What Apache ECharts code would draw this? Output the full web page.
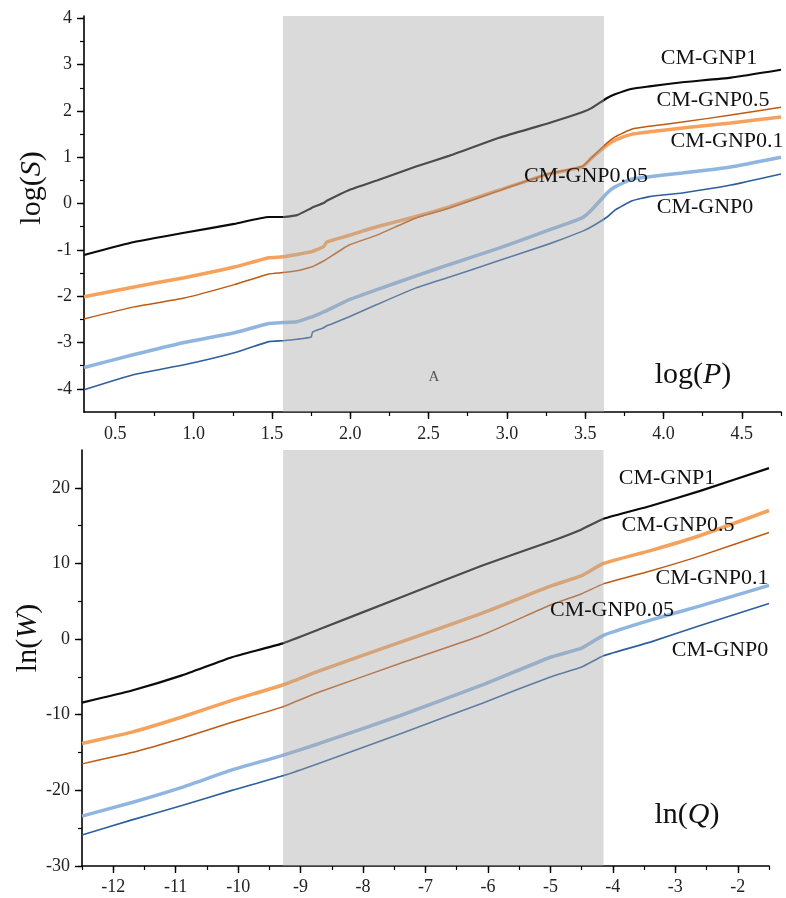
<!DOCTYPE html>
<html>
<head>
<meta charset="utf-8">
<script src="https://cdn.jsdelivr.net/npm/echarts@6/dist/echarts.min.js"></script>
<style>
html,body{margin:0;padding:0;background:#fff;}
#c{width:786px;height:898px;}
</style>
</head>
<body>
<div id="c"></div>
<script>
// ---------- top panel: log(S) vs log(P) ----------
const TOP_X = [0.3, 0.62, 0.94, 1.26, 1.48, 1.57, 1.66, 1.75, 1.76, 1.83, 1.85, 1.99, 2.17, 2.42, 2.63, 2.95, 3.27, 3.48, 3.54, 3.64, 3.69, 3.80, 3.91, 4.12, 4.43, 4.75];
const S_GNP1   = [-1.11, -0.83, -0.63, -0.44, -0.29, -0.29, -0.25, -0.10, -0.08, 0.01, 0.06, 0.29, 0.50, 0.80, 1.03, 1.42, 1.74, 1.97, 2.06, 2.28, 2.36, 2.48, 2.53, 2.62, 2.72, 2.89];
const S_GNP05  = [-2.01, -1.80, -1.60, -1.37, -1.17, -1.15, -1.10, -1.04, -1.03, -0.93, -0.83, -0.69, -0.50, -0.28, -0.07, 0.29, 0.64, 0.79, 0.98, 1.26, 1.37, 1.50, 1.55, 1.63, 1.74, 1.87];
const S_GNP01  = [-2.49, -2.23, -2.04, -1.75, -1.52, -1.49, -1.45, -1.37, -1.36, -1.24, -1.20, -0.90, -0.68, -0.31, -0.10, 0.28, 0.65, 0.80, 0.99, 1.31, 1.44, 1.61, 1.67, 1.76, 1.91, 2.08];
const S_GNP005 = [-3.54, -3.26, -3.00, -2.79, -2.59, -2.57, -2.55, -2.45, -2.44, -2.34, -2.31, -2.08, -1.86, -1.56, -1.32, -0.96, -0.57, -0.31, -0.14, 0.23, 0.36, 0.53, 0.58, 0.66, 0.79, 1.00];
const S_GNP0   = [-4.02, -3.69, -3.48, -3.22, -2.98, -2.96, -2.93, -2.88, -2.77, -2.68, -2.64, -2.45, -2.18, -1.82, -1.59, -1.23, -0.87, -0.60, -0.50, -0.29, -0.14, 0.06, 0.15, 0.23, 0.40, 0.64];
const TOP_X_TICKS = [0.5, 1.0, 1.5, 2.0, 2.5, 3.0, 3.5, 4.0, 4.5];
const TOP_Y_TICKS = [-4, -3, -2, -1, 0, 1, 2, 3, 4];
const TOP_REGION = [1.57, 3.62];

// ---------- bottom panel: ln(W) vs ln(Q) ----------
const BOT_X = [-12.5, -11.7, -10.9, -10.1, -9.3, -8.7, -7.4, -6.1, -5.0, -4.5, -4.15, -3.4, -2.6, -1.5];
const W_GNP1   = [-8.4, -6.8, -4.8, -2.4, -0.6, 1.3, 5.5, 9.7, 12.9, 14.5, 15.9, 17.6, 19.6, 22.6];
const W_GNP05  = [-13.8, -12.3, -10.3, -8.1, -6.1, -4.2, -0.4, 3.4, 7.0, 8.4, 10.0, 11.7, 13.7, 17.0];
const W_GNP01  = [-16.5, -15.0, -13.1, -11.0, -9.0, -7.0, -3.2, 0.5, 4.5, 6.0, 7.3, 9.0, 11.0, 14.1];
const W_GNP005 = [-23.4, -21.6, -19.6, -17.3, -15.4, -13.8, -10.1, -6.1, -2.4, -1.2, 0.5, 2.5, 4.4, 7.1];
const W_GNP0   = [-25.9, -23.9, -22.0, -20.0, -18.1, -16.4, -12.5, -8.5, -5.0, -3.7, -2.2, -0.4, 1.8, 4.7];
const BOT_X_TICKS = [-12, -11, -10, -9, -8, -7, -6, -5, -4, -3, -2];
const BOT_Y_TICKS = [-30, -20, -10, 0, 10, 20];
const BOT_REGION = [-9.28, -4.15];

const NAMES = ['CM-GNP1', 'CM-GNP0.5', 'CM-GNP0.1', 'CM-GNP0.05', 'CM-GNP0'];
const COLORS = ['#0a0a0a', '#f6a25c', '#c05a12', '#8fb5e1', '#2d5f9e'];
const WIDTHS = [2.2, 3.5, 1.5, 3.5, 1.6];

function pairs(xs, ys) { return xs.map((x, i) => [x, ys[i]]); }
function steps(step, lo, hi) {
  const out = [];
  for (let v = lo; v <= hi + 1e-9; v += step) out.push(Math.round(v * 1000) / 1000);
  return out;
}

const SERIF = 'Liberation Serif';
function axisPair(dim, grid, min, max, majors, minors, fmt, margin) {
  const pos = dim === 'x' ? 'bottom' : 'left';
  const main = {
    type: 'value', gridIndex: grid, min: min, max: max, position: pos,
    axisLine: { show: true, onZero: false, lineStyle: { color: '#000', width: 1.6 } },
    axisTick: { show: true, inside: false, length: 7, customValues: majors, lineStyle: { color: '#000', width: 1.4 } },
    axisLabel: { show: true, customValues: majors, formatter: fmt, fontFamily: SERIF, fontSize: 18, color: '#222', margin: margin },
    splitLine: { show: false }
  };
  const minor = {
    type: 'value', gridIndex: grid, min: min, max: max, position: pos,
    axisLine: { show: false, onZero: false },
    axisTick: { show: true, inside: false, length: 4, customValues: minors, lineStyle: { color: '#000', width: 1.2 } },
    axisLabel: { show: false },
    splitLine: { show: false }
  };
  return [main, minor];
}

const topXAxes = axisPair('x', 0, 0.3, 4.75, TOP_X_TICKS, steps(0.25, 0.5, 4.75), v => v.toFixed(1), 13);
const topYAxes = axisPair('y', 0, -4.5, 4.05, TOP_Y_TICKS, steps(0.5, -4, 4), v => String(v), 12);
const botXAxes = axisPair('x', 1, -12.5, -1.5, BOT_X_TICKS, steps(0.5, -12.5, -1.5), v => String(v), 12);
const botYAxes = axisPair('y', 1, -30, 25, BOT_Y_TICKS, steps(5, -30, 20), v => String(v), 12);

const topData = [S_GNP1, S_GNP05, S_GNP01, S_GNP005, S_GNP0];
const botData = [W_GNP1, W_GNP05, W_GNP01, W_GNP005, W_GNP0];
const series = [];
const shade = 'rgba(166,166,166,0.42)';
function mkSeries(xs, ys, i, axisIdx, region) {
  const s = {
    type: 'line', name: NAMES[i], xAxisIndex: axisIdx, yAxisIndex: axisIdx, z: 2,
    data: pairs(xs, ys), showSymbol: false, symbol: 'none', smooth: 0.15,
    lineStyle: { color: COLORS[i], width: WIDTHS[i] }, itemStyle: { color: COLORS[i] }
  };
  if (i === 0) s.markArea = { silent: true, z: 5, itemStyle: { color: shade }, data: [[{ xAxis: region[0] }, { xAxis: region[1] }]] };
  return s;
}
topData.forEach((ys, i) => series.push(mkSeries(TOP_X, ys, i, 0, TOP_REGION)));
botData.forEach((ys, i) => series.push(mkSeries(BOT_X, ys, i, 2, BOT_REGION)));

function label(text, x, y, size) {
  return { type: 'text', x: x, y: y, z: 100,
    style: { text: text, fontFamily: SERIF, fontSize: size || 22, fill: '#111', align: 'center', verticalAlign: 'middle' } };
}
function richTitle(pre, it, x, y, rot) {
  return { type: 'text', x: x, y: y, z: 100, rotation: rot || 0,
    style: {
      text: '{a|' + pre + '(}{b|' + it + '}{a|)}', align: 'center', verticalAlign: 'middle',
      rich: {
        a: { fontFamily: SERIF, fontSize: 30, fill: '#111' },
        b: { fontFamily: SERIF, fontSize: 30, fontStyle: 'italic', fill: '#111' }
      }
    } };
}

const chart = echarts.init(document.getElementById('c'), null, { renderer: 'canvas' });
chart.setOption({
  animation: false,
  backgroundColor: '#fff',
  grid: [
    { left: 84, right: 5, top: 16, height: 396 },
    { left: 82, right: 17, top: 450, height: 416 }
  ],
  xAxis: [topXAxes[0], topXAxes[1], botXAxes[0], botXAxes[1]],
  yAxis: [topYAxes[0], topYAxes[1], botYAxes[0], botYAxes[1]],
  series: series,
  graphic: [
    label('CM-GNP1', 709, 58), label('CM-GNP0.5', 713, 100), label('CM-GNP0.1', 727, 141),
    label('CM-GNP0.05', 586, 176), label('CM-GNP0', 705, 207),
    label('CM-GNP1', 667, 478), label('CM-GNP0.5', 678, 525), label('CM-GNP0.1', 712, 578),
    label('CM-GNP0.05', 612, 610), label('CM-GNP0', 720, 650),
    { type: 'text', x: 434, y: 377, z: 100, style: { text: 'A', fontFamily: SERIF, fontSize: 15, fill: '#555', align: 'center', verticalAlign: 'middle' } },
    richTitle('log', 'P', 693, 375),
    richTitle('ln', 'Q', 687, 815),
    richTitle('log', 'S', 32, 188, Math.PI / 2),
    richTitle('ln', 'W', 28, 638, Math.PI / 2)
  ]
});
</script>
</body>
</html>
